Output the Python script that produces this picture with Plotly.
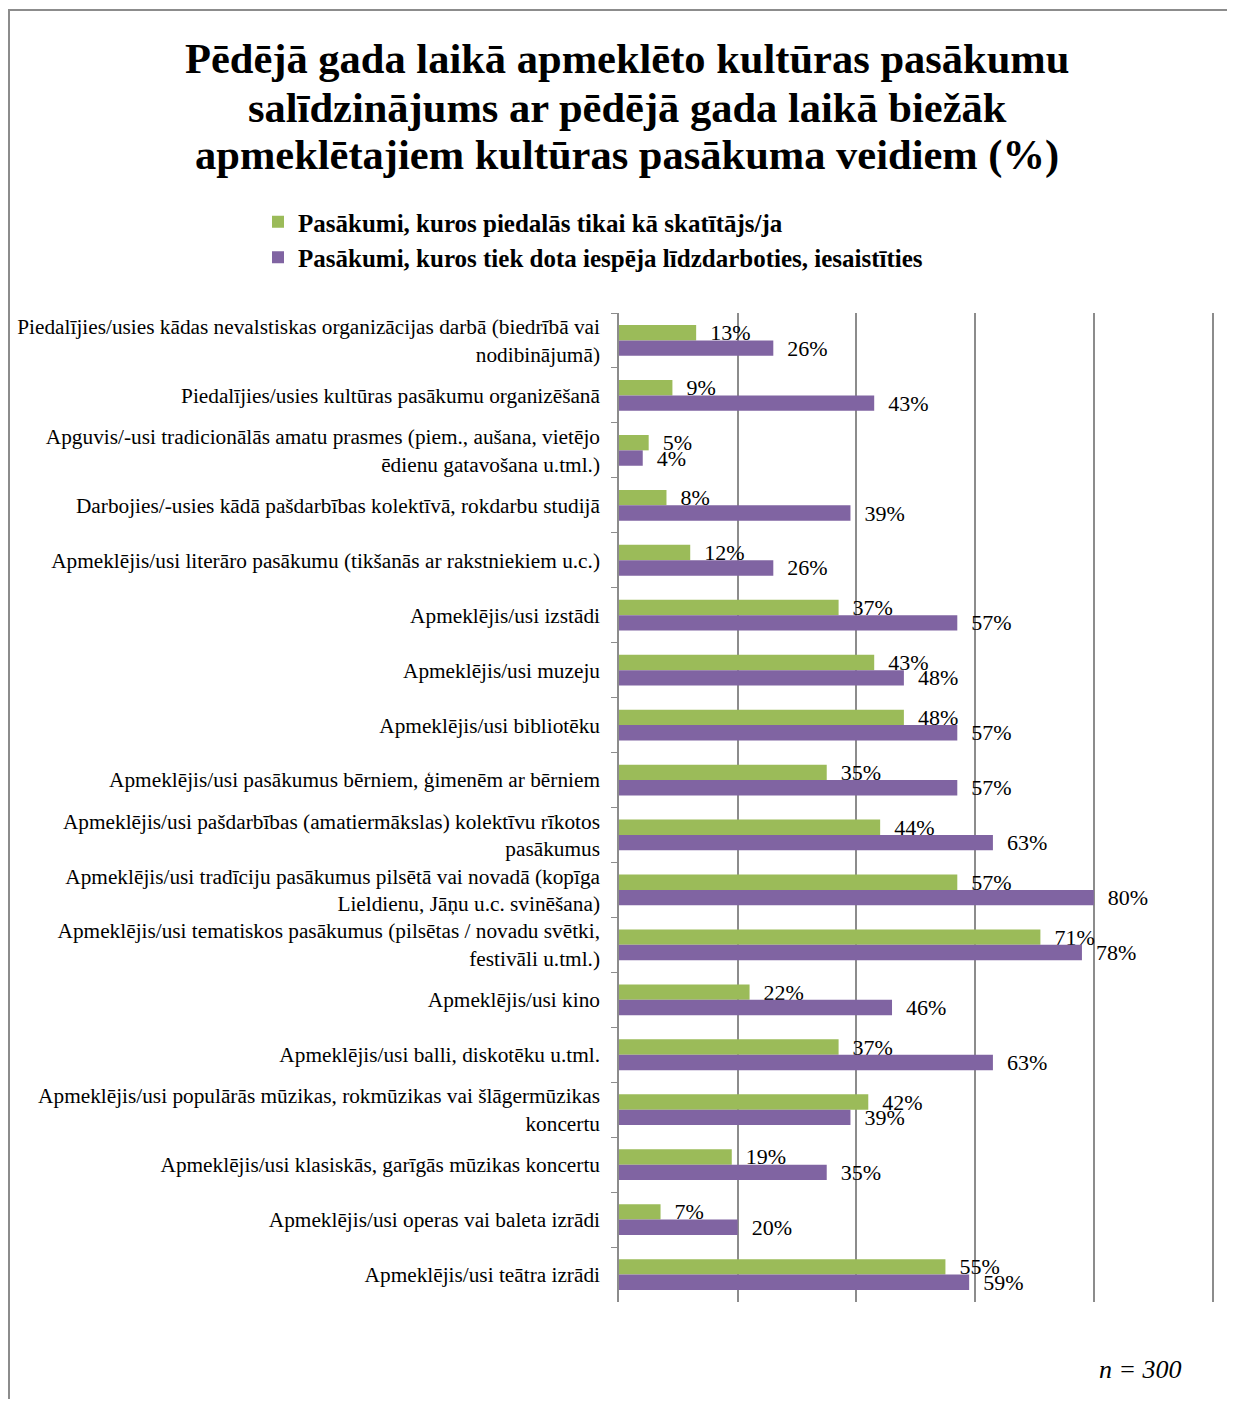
import plotly.graph_objects as go

categories = [
    "Piedalījies/usies kādas nevalstiskas organizācijas darbā (biedrībā vai<br>nodibinājumā)",
    "Piedalījies/usies kultūras pasākumu organizēšanā",
    "Apguvis/-usi tradicionālās amatu prasmes (piem., aušana, vietējo<br>ēdienu gatavošana u.tml.)",
    "Darbojies/-usies kādā pašdarbības kolektīvā, rokdarbu studijā",
    "Apmeklējis/usi literāro pasākumu (tikšanās ar rakstniekiem u.c.)",
    "Apmeklējis/usi izstādi",
    "Apmeklējis/usi muzeju",
    "Apmeklējis/usi bibliotēku",
    "Apmeklējis/usi pasākumus bērniem, ģimenēm ar bērniem",
    "Apmeklējis/usi pašdarbības (amatiermākslas) kolektīvu rīkotos<br>pasākumus",
    "Apmeklējis/usi tradīciju pasākumus pilsētā vai novadā (kopīga<br>Lieldienu, Jāņu u.c. svinēšana)",
    "Apmeklējis/usi tematiskos pasākumus (pilsētas / novadu svētki,<br>festivāli u.tml.)",
    "Apmeklējis/usi kino",
    "Apmeklējis/usi balli, diskotēku u.tml.",
    "Apmeklējis/usi populārās mūzikas, rokmūzikas vai šlāgermūzikas<br>koncertu",
    "Apmeklējis/usi klasiskās, garīgās mūzikas koncertu",
    "Apmeklējis/usi operas vai baleta izrādi",
    "Apmeklējis/usi teātra izrādi",
]

viewer_only = [13, 9, 5, 8, 12, 37, 43, 48, 35, 44, 57, 71, 22, 37, 42, 19, 7, 55]
participate = [26, 43, 4, 39, 26, 57, 48, 57, 57, 63, 80, 78, 46, 63, 39, 35, 20, 59]

series_names = [
    "Pasākumi, kuros piedalās tikai kā skatītājs/ja",
    "Pasākumi, kuros tiek dota iespēja līdzdarboties, iesaistīties",
]

title_lines = [
    "Pēdējā gada laikā apmeklēto kultūras pasākumu",
    "salīdzinājums ar pēdējā gada laikā biežāk",
    "apmeklētajiem kultūras pasākuma veidiem (%)",
]

GREEN = "#9bbb59"
PURPLE = "#8064a2"
GRID = "#8c8c8c"
FONT = "Liberation Serif"

# page body has an 8px margin, so the figure sits at (8, 8)
OFF = 8
W, H = 1235 - 2 * OFF, 1407 - 2 * OFF
L, R, T, B = 619 - OFF, 1214 - OFF, 313 - OFF, 1302 - OFF


def px_x(x):
    return (x - OFF - L) / (R - L)


def px_y(y):
    return (B - (y - OFF)) / (B - T)


pad = "\u00a0" * 2

fig = go.Figure()
for name, vals, col in [(series_names[0], viewer_only, GREEN),
                        (series_names[1], participate, PURPLE)]:
    fig.add_trace(go.Bar(
        y=categories, x=vals, name=name, orientation="h",
        marker=dict(color=col, line=dict(width=0)),
        text=[f"{pad}{v}%" for v in vals],
        textposition="outside", constraintext="none",
        textfont=dict(family=FONT, size=22, color="black"),
        cliponaxis=False,
    ))

fig.update_layout(
    width=W, height=H,
    margin=dict(l=L, r=W - R, t=T, b=H - B, autoexpand=False),
    paper_bgcolor="white", plot_bgcolor="white",
    barmode="group", bargap=0.44, bargroupgap=0,
    font=dict(family=FONT, color="black"),
    legend=dict(
        x=px_x(258), y=px_y(199), xanchor="left", yanchor="top",
        font=dict(family=FONT, size=25, color="black", weight="bold"),
        traceorder="normal", bgcolor="rgba(0,0,0,0)",
        itemwidth=30, tracegroupgap=0,
    ),
    showlegend=True,
)

for line, yc in zip(title_lines, [58, 107, 155]):
    fig.add_annotation(
        text=f"<b>{line}</b>", xref="paper", yref="paper",
        x=px_x(627), y=px_y(yc), xanchor="center", yanchor="middle",
        showarrow=False, font=dict(family=FONT, size=42.5, color="black"),
    )

fig.update_xaxes(
    range=[0, 100.25], showticklabels=False, showgrid=True,
    gridcolor=GRID, gridwidth=1.5, dtick=20,
    zeroline=False, showline=False, automargin=False,
)
fig.update_yaxes(
    autorange="reversed", showline=True, linecolor=GRID, linewidth=1.5,
    ticks="outside", tickson="boundaries", ticklen=6, tickcolor=GRID,
    ticklabelstandoff=13, automargin=False,
    tickfont=dict(family=FONT, size=21.3, color="black"),
)

# outer frame
fig.add_shape(type="rect", xref="paper", yref="paper",
              x0=px_x(9), x1=px_x(1260), y0=px_y(1430), y1=px_y(10),
              line=dict(color=GRID, width=2), layer="below")

fig.add_annotation(
    text="<i>n = 300</i>", xref="paper", yref="paper",
    x=px_x(1184), y=px_y(1369), xanchor="right", yanchor="middle",
    showarrow=False, font=dict(family=FONT, size=26, color="black"),
)

fig.write_html("out.html")
